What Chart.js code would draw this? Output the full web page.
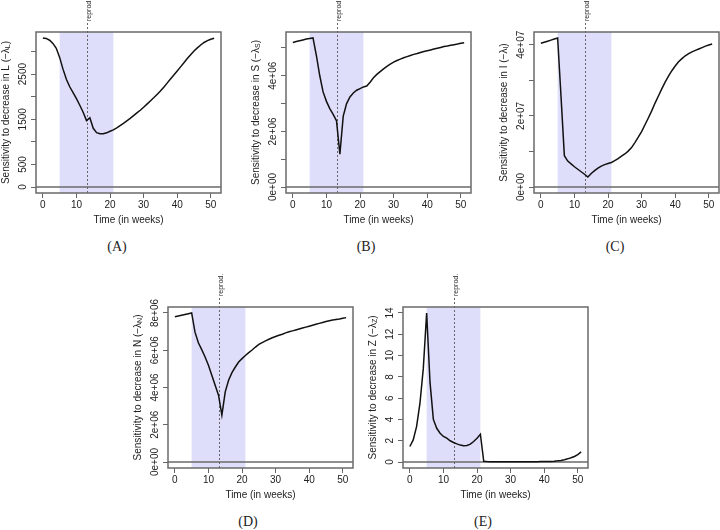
<!DOCTYPE html>
<html>
<head>
<meta charset="utf-8">
<script src="https://cdn.jsdelivr.net/npm/chart.js@4.4.1/dist/chart.umd.min.js"></script>
<style>
  body { margin: 0; background: #fff; }
  #page { position: relative; width: 720px; height: 530px; overflow: hidden; }
  .panel { position: absolute; }
  .cap { position: absolute; font: 14px 'Liberation Serif', serif; color: #222; transform: translate(-50%, -50%); white-space: nowrap; }
</style>
</head>
<body>
<div id="page">
  <div class="panel" style="left:0px;top:0px;width:248px;height:234px"><canvas id="cA"></canvas></div>
  <div class="panel" style="left:248px;top:0px;width:248px;height:234px"><canvas id="cB"></canvas></div>
  <div class="panel" style="left:496px;top:0px;width:224px;height:234px"><canvas id="cC"></canvas></div>
  <div class="panel" style="left:124px;top:272px;width:236px;height:237px"><canvas id="cD"></canvas></div>
  <div class="panel" style="left:360px;top:272px;width:250px;height:237px"><canvas id="cE"></canvas></div>
  <div class="cap" style="left:117px;top:247px">(A)</div>
  <div class="cap" style="left:366px;top:247px">(B)</div>
  <div class="cap" style="left:615px;top:247px">(C)</div>
  <div class="cap" style="left:248px;top:522px">(D)</div>
  <div class="cap" style="left:483px;top:522px">(E)</div>
</div>
<script>
// weeks of the year
const weeks = [0,1,2,3,4,5,6,7,8,9,10,11,12,13,14,15,16,17,18,19,20,21,22,23,24,25,
  26,27,28,29,30,31,32,33,34,35,36,37,38,39,40,41,42,43,44,45,46,47,48,49,50,51];
const xTicks = [0, 10, 20, 30, 40, 50];

// breeding season shading + reproduction marker
const seasonStart = 5;
const seasonEnd = 21;
const reprodWeek = 13;

// sensitivities (-lambda) per compartment
const lambdaL = [3300,3290,3250,3180,3070,2870,2610,2385,2220,2090,1955,1810,1655,1470,1535,1300,
  1205,1180,1178,1200,1235,1265,1310,1360,1410,1465,1520,1580,1640,1700,1765,1835,1905,1975,
  2050,2125,2210,2300,2390,2480,2570,2660,2750,2845,2930,3010,3080,3145,3200,3240,3272,3293];
const lambdaS = [5.20e6,5.23e6,5.26e6,5.29e6,5.32e6,5.34e6,5.36e6,4.73e6,4.01e6,3.42e6,3.08e6,
  2.82e6,2.61e6,2.38e6,1.18e6,2.55e6,3.00e6,3.24e6,3.38e6,3.48e6,3.54e6,3.60e6,3.63e6,3.77e6,
  3.93e6,4.05e6,4.15e6,4.25e6,4.34e6,4.42e6,4.49e6,4.55e6,4.60e6,4.65e6,4.69e6,4.73e6,4.77e6,
  4.80e6,4.84e6,4.87e6,4.90e6,4.93e6,4.96e6,4.99e6,5.02e6,5.05e6,5.07e6,5.10e6,5.12e6,5.14e6,
  5.17e6,5.19e6];
const lambdaI = [4.04e7,4.07e7,4.10e7,4.13e7,4.16e7,4.19e7,2.55e7,0.88e7,0.73e7,0.65e7,0.57e7,
  0.50e7,0.43e7,0.36e7,0.28e7,0.38e7,0.46e7,0.53e7,0.59e7,0.63e7,0.66e7,0.69e7,0.74e7,0.80e7,
  0.87e7,0.93e7,1.01e7,1.11e7,1.25e7,1.40e7,1.56e7,1.75e7,1.94e7,2.14e7,2.36e7,2.56e7,2.76e7,
  2.95e7,3.12e7,3.27e7,3.40e7,3.52e7,3.61e7,3.69e7,3.75e7,3.80e7,3.84e7,3.88e7,3.92e7,3.96e7,
  3.99e7,4.02e7];
const lambdaN = [7.80e6,7.84e6,7.88e6,7.92e6,7.96e6,8.00e6,6.97e6,6.40e6,6.03e6,5.64e6,5.19e6,
  4.66e6,4.12e6,3.59e6,2.52e6,3.77e6,4.39e6,4.80e6,5.10e6,5.37e6,5.55e6,5.72e6,5.87e6,6.01e6,
  6.17e6,6.31e6,6.41e6,6.50e6,6.59e6,6.67e6,6.74e6,6.80e6,6.86e6,6.93e6,6.99e6,7.04e6,7.09e6,
  7.14e6,7.19e6,7.24e6,7.29e6,7.34e6,7.39e6,7.44e6,7.49e6,7.54e6,7.58e6,7.62e6,7.65e6,7.68e6,
  7.72e6,7.75e6];
const lambdaZ = [1.46,2.08,3.33,5.5,8.77,14.0,7.5,4.0,3.17,2.7,2.4,2.24,2.0,1.84,1.71,1.59,1.52,
  1.55,1.68,1.93,2.24,2.61,0.06,0.04,0.03,0.03,0.02,0.02,0.02,0.02,0.02,0.02,0.02,0.02,0.02,
  0.03,0.03,0.03,0.03,0.04,0.04,0.05,0.06,0.08,0.11,0.15,0.22,0.30,0.40,0.52,0.70,0.95];

// y axis ticks and the labels R kept (empty = tick without label)
const ticksL = [0, 500, 1000, 1500, 2000, 2500, 3000];
const labelsL = ['0', '500', '', '1500', '', '2500', ''];
const ticksS = [0, 1e6, 2e6, 3e6, 4e6, 5e6];
const labelsS = ['0e+00', '', '2e+06', '', '4e+06', ''];
const ticksI = [0, 1e7, 2e7, 3e7, 4e7];
const labelsI = ['0e+00', '', '2e+07', '', '4e+07'];
const ticksN = [0, 2e6, 4e6, 6e6, 8e6];
const labelsN = ['0e+00', '2e+06', '4e+06', '6e+06', '8e+06'];
const ticksZ = [0, 2, 4, 6, 8, 10, 12, 14];
const labelsZ = ['0', '2', '4', '6', '8', '10', '12', '14'];

const FONT = "'Liberation Sans', Arial, sans-serif";
Chart.defaults.font.family = FONT;
Chart.defaults.font.size = 10;
Chart.defaults.color = '#222';

const boxColor = '#6a6a6a';

function decor(yTicks, yLabels, letter) {
  return {
    id: 'decor',
    beforeDatasetsDraw(chart) {
      const { ctx, chartArea: a, scales: { x, y } } = chart;
      ctx.save();
      const s0 = x.getPixelForValue(seasonStart), s1 = x.getPixelForValue(seasonEnd);
      ctx.fillStyle = '#dedefa';
      ctx.fillRect(s0, a.top, s1 - s0, a.bottom - a.top);
      const y0 = y.getPixelForValue(0);
      ctx.strokeStyle = boxColor;
      ctx.lineWidth = 1.4;
      ctx.beginPath(); ctx.moveTo(a.left, y0); ctx.lineTo(a.right, y0); ctx.stroke();
      const xr = Math.round(x.getPixelForValue(reprodWeek)) + 0.5;
      ctx.strokeStyle = '#666';
      ctx.lineWidth = 1;
      ctx.setLineDash([2, 2]);
      ctx.beginPath(); ctx.moveTo(xr, a.bottom); ctx.lineTo(xr, a.top - 10); ctx.stroke();
      ctx.restore();
    },
    afterDraw(chart) {
      const { ctx, chartArea: a, scales: { x, y } } = chart;
      ctx.save();
      // box round the plot region
      ctx.strokeStyle = boxColor;
      ctx.lineWidth = 1.5;
      ctx.strokeRect(a.left, a.top, a.right - a.left, a.bottom - a.top);
      // y tick labels, parallel to the axis like R
      ctx.fillStyle = '#222';
      ctx.font = '10px ' + FONT;
      ctx.textAlign = 'center';
      ctx.textBaseline = 'alphabetic';
      yTicks.forEach((v, i) => {
        if (!yLabels[i]) return;
        ctx.save();
        ctx.translate(a.left - 10, y.getPixelForValue(v));
        ctx.rotate(-Math.PI / 2);
        ctx.fillText(yLabels[i], 0, 0);
        ctx.restore();
      });
      // y title with subscript
      const main = 'Sensitivity to decrease in ' + letter + ' (\u2212\u03bb';
      ctx.font = '10px ' + FONT;
      const w1 = ctx.measureText(main).width;
      const w3 = ctx.measureText(')').width;
      ctx.font = '7px ' + FONT;
      const w2 = ctx.measureText(letter).width;
      const total = w1 + w2 + w3;
      ctx.save();
      ctx.translate(a.left - 30, (a.top + a.bottom) / 2);
      ctx.rotate(-Math.PI / 2);
      ctx.textAlign = 'left';
      ctx.textBaseline = 'middle';
      ctx.font = '10px ' + FONT;
      ctx.fillText(main, -total / 2, 0);
      ctx.font = '7px ' + FONT;
      ctx.fillText(letter, -total / 2 + w1, 2.5);
      ctx.font = '10px ' + FONT;
      ctx.fillText(')', -total / 2 + w1 + w2, 0);
      ctx.restore();
      // reprod. label above the dotted line
      const xr = Math.round(x.getPixelForValue(reprodWeek)) + 0.5;
      ctx.save();
      ctx.translate(xr + 3, a.top - 11);
      ctx.rotate(-Math.PI / 2);
      ctx.font = '7px ' + FONT;
      ctx.textAlign = 'left';
      ctx.textBaseline = 'alphabetic';
      ctx.fillText('reprod.', 0, 0);
      ctx.restore();
      ctx.restore();
    }
  };
}

function makePanel(id, values, yTicks, yLabels, letter, g) {
  const hi = Math.max(...values);
  return new Chart(document.getElementById(id), {
    type: 'line',
    data: {
      labels: weeks,
      datasets: [{
        data: values,
        borderColor: '#111',
        borderWidth: 1.5,
        pointRadius: 0,
        tension: 0,
        fill: false
      }]
    },
    options: {
      responsive: true,
      maintainAspectRatio: false,
      animation: false,
      events: [],
      layout: { padding: { top: g.top, right: g.right, left: 0, bottom: 0 } },
      plugins: { legend: { display: false }, tooltip: { enabled: false } },
      scales: {
        x: {
          type: 'linear',
          min: -2.04,
          max: 53.04,
          afterBuildTicks: s => { s.ticks = xTicks.map(v => ({ value: v })); },
          afterFit: s => { s.height = g.bottom; },
          grid: { drawOnChartArea: false, drawTicks: true, tickLength: 5, color: '#666' },
          border: { display: false },
          ticks: { padding: 1, maxRotation: 0, color: '#222' },
          title: { display: true, text: 'Time (in weeks)', color: '#222', padding: { top: 0, bottom: 8 } }
        },
        y: {
          type: 'linear',
          min: -0.04 * hi,
          max: 1.04 * hi,
          afterBuildTicks: s => { s.ticks = yTicks.map(v => ({ value: v })); },
          afterFit: s => { s.width = g.left; },
          grid: { drawOnChartArea: false, drawTicks: true, tickLength: 5, color: '#666' },
          border: { display: false },
          ticks: { display: false }
        }
      }
    },
    plugins: [decor(yTicks, yLabels, letter)]
  });
}

makePanel('cA', lambdaL, ticksL, labelsL, 'L', { left: 36, top: 32, right: 27, bottom: 41 });
makePanel('cB', lambdaS, ticksS, labelsS, 'S', { left: 38, top: 32, right: 25, bottom: 41 });
makePanel('cC', lambdaI, ticksI, labelsI, 'I', { left: 38, top: 32, right: 1, bottom: 41 });
makePanel('cD', lambdaN, ticksN, labelsN, 'N', { left: 44, top: 35, right: 7, bottom: 41 });
makePanel('cE', lambdaZ, ticksZ, labelsZ, 'Z', { left: 43, top: 35, right: 22, bottom: 41 });
</script>
</body>
</html>
